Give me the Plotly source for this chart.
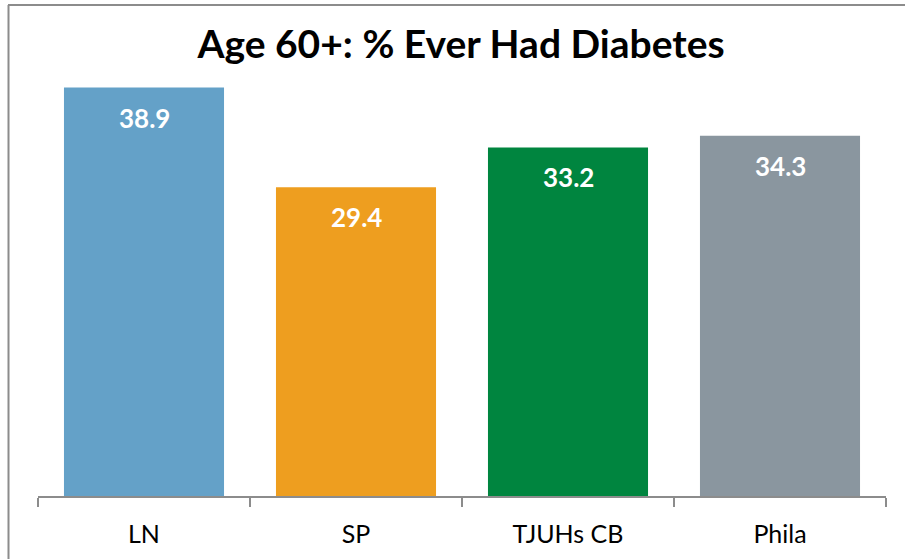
import plotly.graph_objects as go

categories = ["LN", "SP", "TJUHs CB", "Phila"]
values = [38.9, 29.4, 33.2, 34.3]
value_labels = ["38.9", "29.4", "33.2", "34.3"]
bar_colors = ["#64A1C8", "#EE9E1F", "#00853F", "#8A969F"]
title_text = "Age 60+: % Ever Had Diabetes"

FONT = "Lato"

fig = go.Figure()
fig.add_trace(go.Bar(
    x=categories, y=values,
    marker=dict(color=bar_colors, line=dict(width=0)),
    hoverinfo="skip",
))

for c, v, t in zip(categories, values, value_labels):
    fig.add_annotation(
        x=c, y=v, text="<b>%s</b>" % t, showarrow=False,
        xref="x", yref="y", yanchor="middle", yshift=-30,
        font=dict(family=FONT, size=26, color="white"),
    )

L, R, T, B = 38, 19, 76, 63
W, H = 905, 559
pw, ph = W - L - R, H - T - B

def px_x(p):
    return (p - L) / pw

def px_y(p):
    return (H - B - p) / ph

# chart frame: only top and left edges are visible in the window
fig.add_shape(
    type="line", xref="paper", yref="paper",
    x0=px_x(8), x1=px_x(W + 5), y0=px_y(5), y1=px_y(5),
    line=dict(color="#8C8C8C", width=2), layer="below",
)
fig.add_shape(
    type="line", xref="paper", yref="paper",
    x0=px_x(8.5), x1=px_x(8.5), y0=px_y(5), y1=px_y(H + 5),
    line=dict(color="#8C8C8C", width=2), layer="below",
)

fig.update_layout(
    width=W, height=H,
    margin=dict(l=L, r=R, t=T, b=B),
    paper_bgcolor="white", plot_bgcolor="white",
    showlegend=False,
    bargap=0.245,
    title=dict(
        text="<b>%s</b>" % title_text,
        x=461 / W, xanchor="center", xref="container",
        y=1 - 44 / H, yanchor="middle", yref="container",
        font=dict(family=FONT, size=39, color="black"),
    ),
    font=dict(family=FONT),
)

fig.update_xaxes(
    showline=True, linecolor="#8C8C8C", linewidth=1.5,
    ticks="outside", tickson="boundaries", ticklen=9, tickcolor="#8C8C8C", tickwidth=1.5,
    tickfont=dict(family=FONT, size=25, color="black"),
    ticklabelstandoff=15,
    showgrid=False, zeroline=False, range=[-0.5, 3.5], fixedrange=True,
)
fig.update_yaxes(
    range=[0, 40], visible=False, showgrid=False, zeroline=False, fixedrange=True,
)

fig.write_html(
    "out.html",
    config={"displayModeBar": False},
    post_script=(
        "document.documentElement.style.overflow='hidden';"
        "document.body.style.margin='0';"
        "document.body.style.overflow='hidden';"
    ),
)
